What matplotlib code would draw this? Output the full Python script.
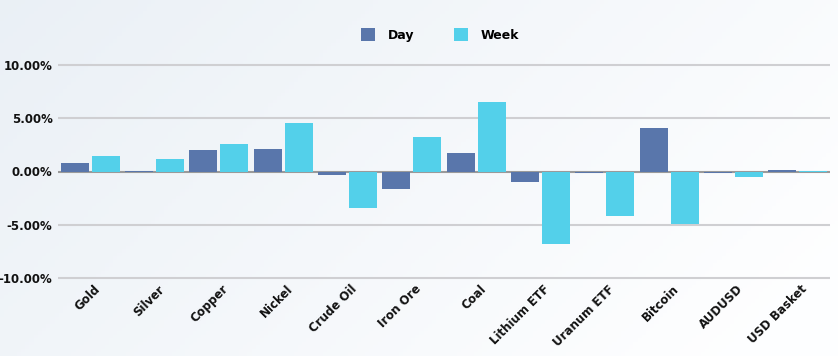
import numpy as np
import matplotlib
matplotlib.use("Agg")
import matplotlib.pyplot as plt
from matplotlib.ticker import FuncFormatter
from matplotlib.transforms import ScaledTranslation

categories = ["Gold", "Silver", "Copper", "Nickel", "Crude Oil", "Iron Ore", "Coal",
              "Lithium ETF", "Uranum ETF", "Bitcoin", "AUDUSD", "USD Basket"]
day = [0.78, 0.05, 2.05, 2.1, -0.35, -1.6, 1.7, -1.0, -0.15, 4.13, -0.15, 0.15]
week = [1.44, 1.2, 2.6, 4.6, -3.4, 3.25, 6.55, -6.85, -4.15, -4.9, -0.55, 0.08]
yticks = [-10, -5, 0, 5, 10]

DAY_C = "#5976ab"
WEEK_C = "#53d0ea"
FONT = ["DejaVu Sans"]

fig = plt.figure(figsize=(8.38, 3.56), dpi=100)

# background gradient
bg = fig.add_axes([0, 0, 1, 1], zorder=-10)
xs = np.linspace(0, 1, 200)
ys = np.linspace(0, 1, 100)
X, Y = np.meshgrid(xs, ys)
t = np.clip(0.7 * X + 0.3 * (1 - Y) + 0.1, 0, 1)
c0 = np.array([0.91, 0.935, 0.96])
c1 = np.array([0.995, 0.997, 1.0])
img = c0[None, None, :] * (1 - t[..., None]) + c1[None, None, :] * t[..., None]
bg.imshow(img, aspect="auto", extent=[0, 1, 0, 1], origin="lower")
bg.axis("off")

ax = fig.add_axes([58 / 838, 1 - 280 / 356, 772 / 838, 217 / 356])
ax.set_facecolor("none")
x = np.arange(len(categories))
w = 0.435
off = w / 2 + 0.024
ax.bar(x - off, day, width=w, color=DAY_C, zorder=3, label="Day")
ax.bar(x + off, week, width=w, color=WEEK_C, zorder=3, label="Week")

ax.set_xlim(-0.5, len(categories) - 0.5)
ax.set_ylim(-10.2, 10.2)
ax.set_yticks(yticks)
ax.yaxis.set_major_formatter(FuncFormatter(lambda v, p: f"{v:.2f}%"))
for yv in yticks:
    if yv == 0:
        ax.axhline(yv, color="#9a9a9a", lw=1.5, zorder=2)
    else:
        ax.axhline(yv, color="#cfcfd2", lw=1.5, zorder=1)
for s in ax.spines.values():
    s.set_visible(False)
ax.tick_params(axis="both", length=0)
ax.tick_params(axis="y", pad=4)
for lab in ax.get_yticklabels():
    lab.set_fontfamily(FONT)
    lab.set_fontweight("bold")
    lab.set_fontsize(8.5)
    lab.set_color("#111111")

ax.set_xticks(x)
ax.set_xticklabels(categories, rotation=45, ha="right", rotation_mode="anchor",
                   fontfamily=FONT, fontweight="bold", fontsize=8.5, color="#111111")
ax.tick_params(axis="x", pad=2)
shift = ScaledTranslation(3 / 100, 0, fig.dpi_scale_trans)
for lab in ax.get_xticklabels():
    lab.set_transform(lab.get_transform() + shift)

leg = fig.legend(loc="center", bbox_to_anchor=(440 / 838, 1 - 35 / 356), ncol=2,
                 frameon=False, handlelength=1.15, handleheight=1.15,
                 columnspacing=3.2, handletextpad=1.0,
                 prop={"family": FONT, "weight": "bold", "size": 9})

fig.savefig("out.png", dpi=100)
